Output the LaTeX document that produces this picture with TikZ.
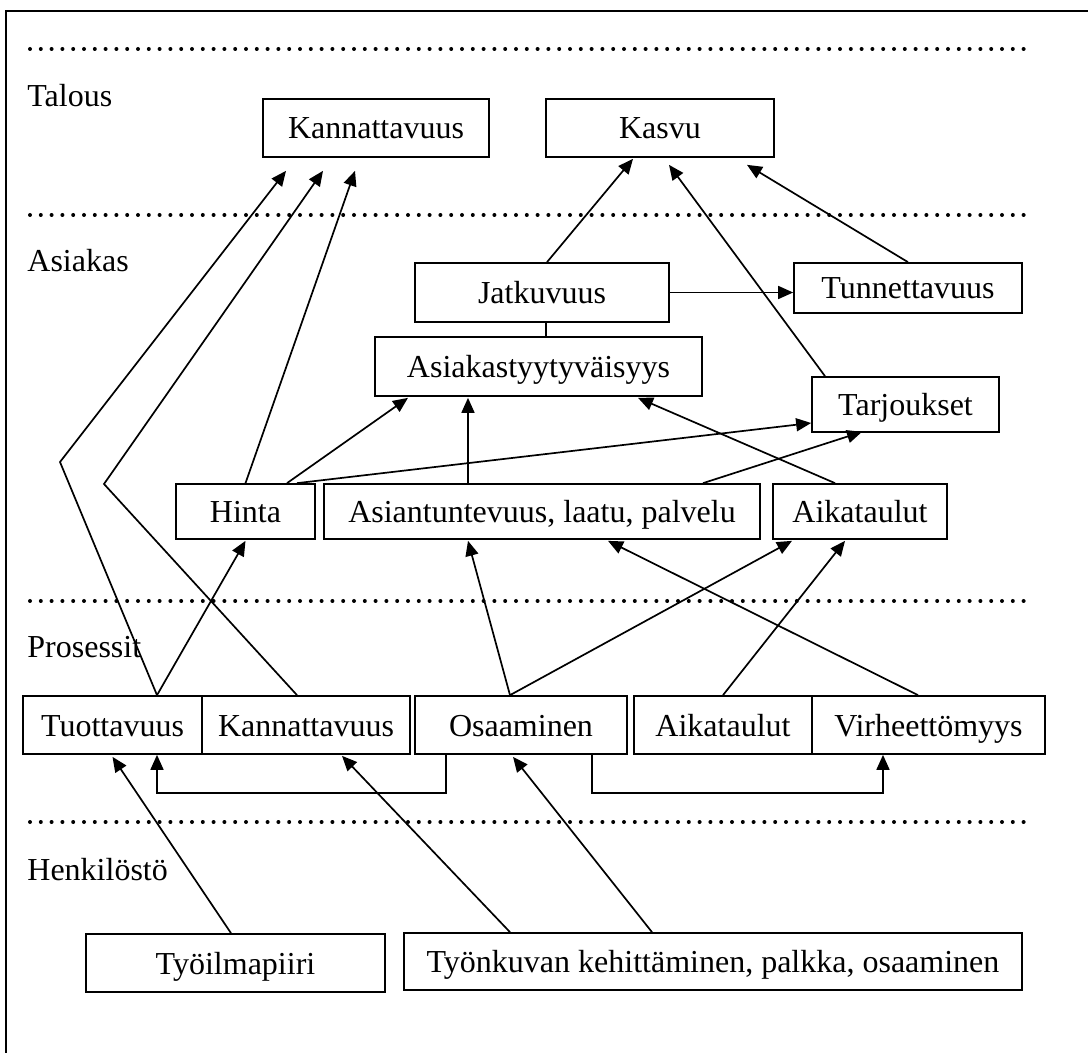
\documentclass[tikz,border=0pt]{standalone}
\usepackage{fontspec}
\setmainfont{Liberation Serif}
\usetikzlibrary{arrows.meta,calc}
\begin{document}
\begin{tikzpicture}[x=0.5pt,y=-0.5pt,
  font=\fontsize{16}{19}\selectfont,
  box/.style={draw,line width=0.85pt,rectangle,inner sep=0pt,anchor=center,text height=14pt,text depth=3pt},
  conn/.style={line width=0.85pt},
  arr/.style={line width=0.85pt,-{Triangle[length=7.5pt,width=6.5pt]}},
  sep/.style={line width=2pt,line cap=round,dash pattern=on 0pt off 5.4pt},
  lab/.style={anchor=base west,inner sep=0pt}]
\useasboundingbox (0,0) rectangle (1088,1053);
% frame
\coordinate (fa) at (1088,11);
\coordinate (fb) at (6,11);
\coordinate (fc) at (6,1053);
\draw[line width=1.2pt] (fa) -- (fb) -- (fc);
% separators
\coordinate (d1a) at (30,49);  \coordinate (d1b) at (1024,49);
\coordinate (d2a) at (30,215); \coordinate (d2b) at (1024,215);
\coordinate (d3a) at (30,601); \coordinate (d3b) at (1024,601);
\coordinate (d4a) at (30,822); \coordinate (d4b) at (1024,822);
\draw[sep] (d1a) -- (d1b);
\draw[sep] (d2a) -- (d2b);
\draw[sep] (d3a) -- (d3b);
\draw[sep] (d4a) -- (d4b);
% layer labels
\node[lab] (lt) at (27,107) {Talous};
\node[lab] (la) at (27,272) {Asiakas};
\node[lab] (lp) at (27,658) {Prosessit};
\node[lab] (lh) at (27,880) {Henkilöstö};
% nodes
\node[box,minimum width=113pt,minimum height=29pt] (kan1) at (376,128) {Kannattavuus};
\node[box,minimum width=114pt,minimum height=29pt] (kasvu) at (660,128) {Kasvu};
\node[box,minimum width=127pt,minimum height=29.5pt] (jatk) at (542,292.5) {Jatkuvuus};
\node[box,minimum width=114pt,minimum height=25pt] (tunn) at (908,288) {Tunnettavuus};
\node[box,minimum width=163.5pt,minimum height=29.5pt] (asty) at (538.5,366.5) {Asiakastyytyväisyys};
\node[box,minimum width=93.5pt,minimum height=27.5pt] (tarj) at (905.5,404.5) {Tarjoukset};
\node[box,minimum width=69.5pt,minimum height=27.5pt] (hinta) at (245.5,511.5) {Hinta};
\node[box,minimum width=218pt,minimum height=27.5pt] (asian) at (542,511.5) {Asiantuntevuus, laatu, palvelu};
\node[box,minimum width=87pt,minimum height=27.5pt] (aika1) at (860,511.5) {Aikataulut};
\node[box,minimum width=89.5pt,minimum height=29pt] (tuot) at (112.5,725) {Tuottavuus};
\node[box,minimum width=104pt,minimum height=29pt] (kan2) at (306,725) {Kannattavuus};
\node[box,minimum width=106pt,minimum height=29pt] (osa) at (521,725) {Osaaminen};
\node[box,minimum width=89pt,minimum height=29pt] (aika2) at (723,725) {Aikataulut};
\node[box,minimum width=116.5pt,minimum height=29pt] (virh) at (928.5,725) {Virheettömyys};
\node[box,minimum width=149.5pt,minimum height=29pt] (tyoil) at (235.5,963) {Työilmapiiri};
\node[box,minimum width=309pt,minimum height=28.5pt] (tyonk) at (713,961.5) {Työnkuvan kehittäminen, palkka, osaaminen};
% bend points
\coordinate (z1) at (60,462);
\coordinate (z2) at (104,484);
% Talous connectors
\draw[arr] ($(jatk.north)+(5,0)$) -- ($(kasvu.south)+(-27,1)$);
\draw[arr] ($(tarj.north)+(-80.5,0)$) -- ($(kasvu.south)+(9,7)$);
\draw[arr] (tunn.north) -- ($(kasvu.south)+(87,7)$);
\draw[arr] ($(tuot.north)+(44.5,0)$) -- (z1) -- ($(kan1.south)+(-90,13)$);
\draw[arr] ($(kan2.north)+(-9,0)$) -- (z2) -- ($(kan1.south)+(-53,13)$);
\draw[arr] (hinta.north) -- ($(kan1.south)+(-21,13)$);
% Asiakas connectors
\draw[arr] (jatk.east) -- (jatk.east -| tunn.west);
\draw[conn] ($(jatk.south)+(4,0)$) -- ($(jatk.south)+(4,15)$);
\draw[arr] ($(hinta.north)+(41.5,0)$) -- ($(asty.south)+(-130.5,1)$);
\draw[arr] ($(hinta.north)+(51.5,0)$) -- ($(tarj.west)+(0,18.5)$);
\draw[arr] ($(asian.north)+(-74,0)$) -- ($(asty.south)+(-70.5,1)$);
\draw[arr] ($(asian.north)+(161,0)$) -- ($(tarj.south)+(-43.5,-1)$);
\draw[arr] ($(aika1.north)+(-25,0)$) -- ($(asty.south)+(99.5,1)$);
% Prosessit connectors
\draw[arr] ($(tuot.north)+(44.5,0)$) -- ($(hinta.south)+(0,1)$);
\draw[arr] ($(osa.north)+(-11,0)$) -- ($(asian.south)+(-74,1)$);
\draw[arr] ($(osa.north)+(-11,0)$) -- ($(aika1.south)+(-68,1)$);
\draw[arr] (aika2.north) -- ($(aika1.south)+(-15,1)$);
\draw[arr] ($(virh.north)+(-10.5,0)$) -- ($(asian.south)+(66,1)$);
\draw[arr] ($(osa.south)+(-75,0)$) -- ($(osa.south)+(-75,38)$) -- ($(tuot.south)+(44.5,38)$) -- ($(tuot.south)+(44.5,0)$);
\draw[arr] ($(osa.south)+(71,0)$) -- ($(osa.south)+(71,38)$) -- ($(virh.south)+(-45.5,38)$) -- ($(virh.south)+(-45.5,0)$);
% Henkilöstö connectors
\draw[arr] ($(tyoil.north)+(-4.5,0)$) -- ($(tuot.south)+(0,2)$);
\draw[arr] ($(tyonk.north)+(-203,0)$) -- ($(kan2.south)+(36,1)$);
\draw[arr] ($(tyonk.north)+(-61,0)$) -- ($(osa.south)+(-8,2)$);
\end{tikzpicture}
\end{document}
